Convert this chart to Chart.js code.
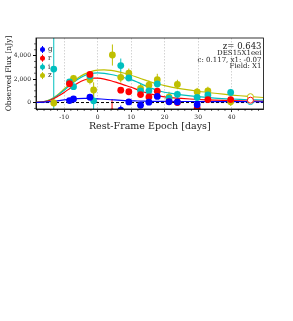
<!DOCTYPE html>
<html><head><meta charset="utf-8">
<script src="https://cdn.jsdelivr.net/npm/chart.js@4.4.0/dist/chart.umd.min.js"></script>
<style>html,body{margin:0;padding:0;background:#fff;overflow:hidden}canvas{display:block}</style>
</head><body>
<canvas id="c" width="293" height="321"></canvas>
<script>
// ---- data ----
const xTicks = [-10, 0, 10, 20, 30, 40];
const yTicks = [0, 2000, 4000];
const bandNames = ['g', 'r', 'i', 'z'];
const infoLines = ['z= 0.643', 'DES15X1eei', 'c: 0.117, x1: -0.07', 'Field: X1'];

const gEpoch = [-8.4, -7.2, -2.3, 6.9, 9.3, 12.8, 15.3, 17.8, 21.3, 23.8, 29.7];
const gFlux  = [170, 300, 450, -650, 50, -230, 30, 520, 60, 50, -180];
const gErr   = [150, 150, 200, 400, 150, 150, 150, 200, 150, 150, 200];

const rEpoch = [-8.4, -2.3, 4.3, 6.9, 9.3, 12.8, 15.3, 17.8, 21.3, 23.8, 29.7, 32.9, 39.7];
const rFlux  = [1600, 2400, -800, 1050, 920, 680, 480, 970, 80, 0, -480, 250, 250];
const rErr   = [200, 250, 1100, 250, 200, 200, 200, 200, 200, 200, 250, 200, 250];

const iEpoch = [-13.1, -8.4, -7.2, -2.3, -1.2, 6.9, 9.3, 12.8, 15.3, 17.8, 21.3, 23.8, 29.7, 32.9, 39.7];
const iFlux  = [2850, 1750, 1350, 2250, 150, 3150, 2100, 1000, 1000, 1580, 350, 700, 430, 650, 860];
const iErr   = [4000, 250, 250, 300, 700, 600, 300, 300, 250, 250, 250, 300, 300, 300, 300];

const zEpoch = [-13.1, -8.4, -7.2, -2.3, -1.2, 4.4, 6.9, 9.3, 12.8, 15.3, 17.8, 21.3, 23.8, 29.7, 32.9, 39.7];
const zFlux  = [-30, 1650, 2050, 1950, 1070, 4050, 2150, 2500, 1200, 1480, 1950, 470, 1540, 900, 1000, 60];
const zErr   = [350, 300, 300, 400, 650, 900, 450, 400, 400, 400, 500, 450, 400, 350, 350, 350];

// excluded (open) points
const openEpoch = [45.6];
const rOpen = [200];
const iOpen = [80];
const zOpen = [500];

// model curves
const modelEpoch = [-18.4, -16, -14, -12, -10, -8, -6, -4, -2, 0, 2, 4, 6, 8, 10, 12, 14, 16, 18, 20, 22, 25, 30, 35, 40, 45, 49.5];
const gModel = [5, 30, 80, 150, 220, 290, 340, 360, 350, 320, 280, 240, 200, 170, 150, 130, 115, 105, 100, 95, 92, 90, 85, 80, 75, 70, 65];
const rModel = [15, 70, 220, 510, 860, 1270, 1640, 1920, 2070, 2080, 2000, 1860, 1680, 1490, 1300, 1080, 880, 720, 590, 490, 420, 350, 260, 200, 160, 130, 110];
const iModel = [20, 80, 260, 610, 1050, 1540, 1960, 2290, 2480, 2520, 2480, 2390, 2260, 2110, 1950, 1720, 1460, 1230, 1030, 880, 780, 660, 500, 380, 300, 240, 210];
const zModel = [20, 90, 280, 650, 1150, 1650, 2080, 2420, 2640, 2760, 2790, 2740, 2640, 2500, 2330, 2130, 1930, 1740, 1580, 1440, 1320, 1170, 960, 790, 640, 520, 430];
const zeroEpoch = [-18.4, 49.5];
const zeroFlux = [0, 0];

// ---- styling ----
const colors = { g: '#0000ff', r: '#ff0000', i: '#00bfbf', z: '#bfbf00' };
const FONT = 'DejaVu Serif';
const pts = (xs, ys) => xs.map((x, k) => ({ x: x, y: ys[k] }));

const bandData = {
  g: [gEpoch, gFlux, gErr, gModel],
  r: [rEpoch, rFlux, rErr, rModel],
  i: [iEpoch, iFlux, iErr, iModel],
  z: [zEpoch, zFlux, zErr, zModel]
};
const openData = { r: rOpen, i: iOpen, z: zOpen };

const datasets = [];
datasets.push({
  type: 'line', data: pts(zeroEpoch, zeroFlux), borderColor: '#000', borderWidth: 1,
  borderDash: [3, 2], pointRadius: 0, fill: false, clip: 0, order: 10
});
bandNames.forEach(b => {
  const [ex, fx, er, mod] = bandData[b];
  datasets.push({
    type: 'line', data: pts(modelEpoch, mod), borderColor: colors[b], borderWidth: 1.2,
    pointRadius: 0, fill: false, tension: 0.3, clip: 0, order: 5
  });
});
bandNames.forEach(b => {
  const [ex, fx, er] = bandData[b];
  datasets.push({
    type: 'scatter', data: pts(ex, fx), errors: er, errColor: colors[b],
    backgroundColor: colors[b], borderColor: colors[b], borderWidth: 0,
    pointRadius: 3.4, clip: 0, order: 1
  });
});
Object.keys(openData).forEach(b => {
  datasets.push({
    type: 'scatter', data: pts(openEpoch, openData[b]),
    backgroundColor: '#ffffff', borderColor: colors[b], borderWidth: 1,
    pointRadius: 3, clip: 0, order: 0
  });
});

const errPlugin = {
  id: 'errbars',
  beforeDatasetsDraw(chart) {
    const { ctx, chartArea: a, scales: { x, y } } = chart;
    ctx.save();
    ctx.beginPath();
    ctx.rect(a.left, a.top, a.right - a.left, a.bottom - a.top);
    ctx.clip();
    chart.data.datasets.forEach(ds => {
      if (!ds.errors) return;
      ctx.strokeStyle = ds.errColor;
      ctx.lineWidth = 1;
      ds.data.forEach((p, k) => {
        const px = x.getPixelForValue(p.x);
        ctx.beginPath();
        ctx.moveTo(px, y.getPixelForValue(p.y - ds.errors[k]));
        ctx.lineTo(px, y.getPixelForValue(p.y + ds.errors[k]));
        ctx.stroke();
      });
    });
    ctx.restore();
  }
};

const decoPlugin = {
  id: 'deco',
  afterDraw(chart) {
    const { ctx, chartArea: a, scales: { x, y } } = chart;
    ctx.save();
    // frame
    ctx.strokeStyle = '#000';
    ctx.lineWidth = 0.8;
    ctx.strokeRect(a.left, a.top, a.right - a.left, a.bottom - a.top);
    // minor ticks
    ctx.lineWidth = 0.6;
    for (let v = -18; v <= 48; v += 2) {
      if (v % 10 === 0) continue;
      const px = x.getPixelForValue(v);
      ctx.beginPath(); ctx.moveTo(px, a.bottom); ctx.lineTo(px, a.bottom + 2); ctx.stroke();
    }
    for (let v = -500; v <= 5000; v += 500) {
      if (v % 2000 === 0) continue;
      const py = y.getPixelForValue(v);
      ctx.beginPath(); ctx.moveTo(a.left, py); ctx.lineTo(a.left - 2, py); ctx.stroke();
    }
    // legend
    ctx.font = '7px "' + FONT + '"';
    ctx.textBaseline = 'middle';
    ctx.textAlign = 'left';
    bandNames.forEach((b, k) => {
      const cy = a.top + 11.5 + k * 8.7;
      const cx = a.left + 6.5;
      ctx.strokeStyle = colors[b]; ctx.fillStyle = colors[b];
      ctx.lineWidth = 1;
      ctx.beginPath(); ctx.moveTo(cx, cy - 3.5); ctx.lineTo(cx, cy + 3.5); ctx.stroke();
      ctx.beginPath(); ctx.arc(cx, cy, 2.5, 0, Math.PI * 2); ctx.fill();
      ctx.fillStyle = '#222';
      ctx.fillText(b, a.left + 12, cy);
    });
    // info text
    ctx.textAlign = 'right';
    ctx.fillStyle = '#222';
    const rx = a.right - 2;
    ctx.font = '8.5px "' + FONT + '"';
    ctx.fillText(infoLines[0], rx, a.top + 8.5);
    ctx.font = '7px "' + FONT + '"';
    ctx.fillText(infoLines[1], rx, a.top + 15.5);
    ctx.fillText(infoLines[2], rx, a.top + 22);
    ctx.fillText(infoLines[3], rx, a.top + 28.5);
    ctx.restore();
  }
};

new Chart(document.getElementById('c'), {
  data: { datasets },
  options: {
    responsive: false,
    animation: false,
    devicePixelRatio: 1,
    layout: { padding: { left: 0, top: 38, right: 29.5, bottom: 184 } },
    plugins: { legend: { display: false }, tooltip: { enabled: false } },
    scales: {
      x: {
        type: 'linear', min: -18.4, max: 49.5,
        afterBuildTicks: s => { s.ticks = xTicks.map(v => ({ value: v })); },
        afterFit: s => { s.height = 28; },
        grid: { display: true, drawOnChartArea: true, color: '#c8c8c8', lineWidth: 0.8,
                tickColor: '#000', tickLength: 3, tickBorderDash: [] },
        border: { display: true, color: '#000', width: 0.8, dash: [1.5, 1.5] },
        ticks: { font: { family: FONT, size: 6 }, color: '#222', padding: 2, maxRotation: 0 },
        title: { display: true, text: 'Rest-Frame Epoch [days]', font: { family: FONT, size: 9.5 },
                 color: '#222', padding: { top: 0, bottom: 5 } }
      },
      y: {
        type: 'linear', min: -550, max: 5500,
        afterBuildTicks: s => { s.ticks = yTicks.map(v => ({ value: v })); },
        afterFit: s => { s.width = 36; },
        grid: { display: true, drawOnChartArea: false, tickColor: '#000', tickLength: 3 },
        border: { display: true, color: '#000', width: 0.8 },
        ticks: { font: { family: FONT, size: 6 }, color: '#222', padding: 2 },
        title: { display: true, text: 'Observed Flux [nJy]', font: { family: FONT, size: 7.5 },
                 color: '#222', padding: { top: 5, bottom: 0 } }
      }
    }
  },
  plugins: [errPlugin, decoPlugin]
});
</script>
</body></html>
